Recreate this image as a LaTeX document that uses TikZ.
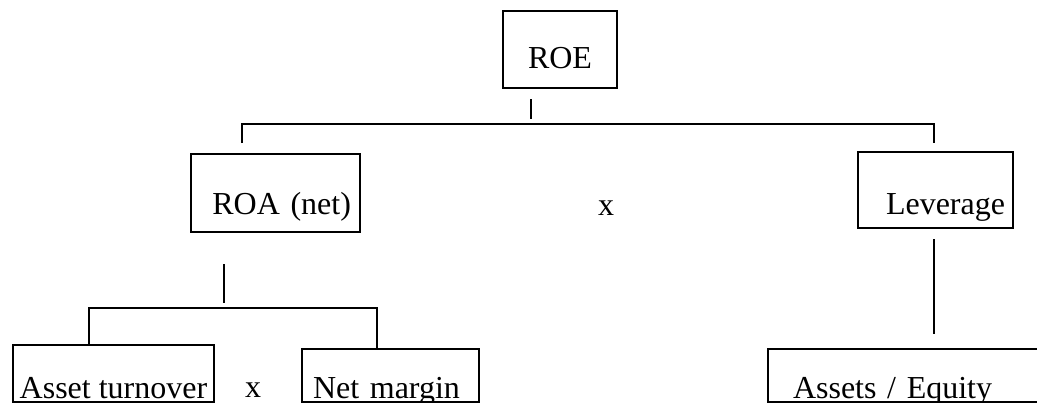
\documentclass[tikz,border=0pt]{standalone}
\usepackage{fontspec}
\setmainfont{Liberation Serif}
\usetikzlibrary{positioning, calc}
\tikzset{
  every picture/.style={line width=1pt},
  box/.style={draw, anchor=north west, inner ysep=0pt, font=\fontsize{16}{19}\selectfont},
  link/.style={draw, line width=1pt},
  times/.style={font=\fontsize{16}{19}\selectfont, inner sep=0pt, anchor=base},
}
\begin{document}
\begin{tikzpicture}[x=0.5pt, y=-0.5pt]
  \clip (0,0) rectangle (1037,402);
  \node[box, text width=43pt, inner xsep=7pt, align=center, text height=28.5pt, text depth=10pt] (roe) at (502,10) {ROE};
  \node[box, text width=75.5pt, inner xsep=4.5pt, align=right, text height=30pt, text depth=9pt] (roa) at (190,153) {ROA (net)};
  \node[box, text width=69.5pt, inner xsep=4pt, align=right, text height=31pt, text depth=7pt] (lev) at (857,151) {Leverage};
  \node[box, minimum width=100.5pt, inner xsep=1pt, text height=26.5pt, text depth=2pt] (at) at (12,344) {Asset turnover};
  \node[box, text width=77.5pt, inner xsep=5.5pt, align=left, text height=24.5pt, text depth=2pt] (nm) at (301,348) {Net margin};
  \node[box, text width=116.5pt, inner xsep=12.5pt, align=left, text height=24.5pt, text depth=2pt] (ae) at (767,348) {Assets / Equity};
  \node[times] (x1) at (606,215) {x};
  \node[times] (x2) at (253,397) {x};
  \coordinate (tl) at (242,124);
  \coordinate (tr) at (934,124);
  \coordinate (bl) at (89,308);
  \coordinate (br) at (377,308);
  \draw[link] ($(roe.south west)+(29,10)$) -- ++(0,20);
  \draw[link] ($(tl)+(0,19)$) -- (tl) -- (tr) -- ($(tr)+(0,19)$);
  \draw[link] ($(roa.south west)+(34,31)$) -- ++(0,39);
  \draw[link] (at.north -| bl) -- (bl) -- (br) -- (nm.north -| br);
  \draw[link] ($(lev.south -| tr)+(0,10)$) -- ($(ae.north -| tr)+(0,-14)$);
\end{tikzpicture}
\end{document}
